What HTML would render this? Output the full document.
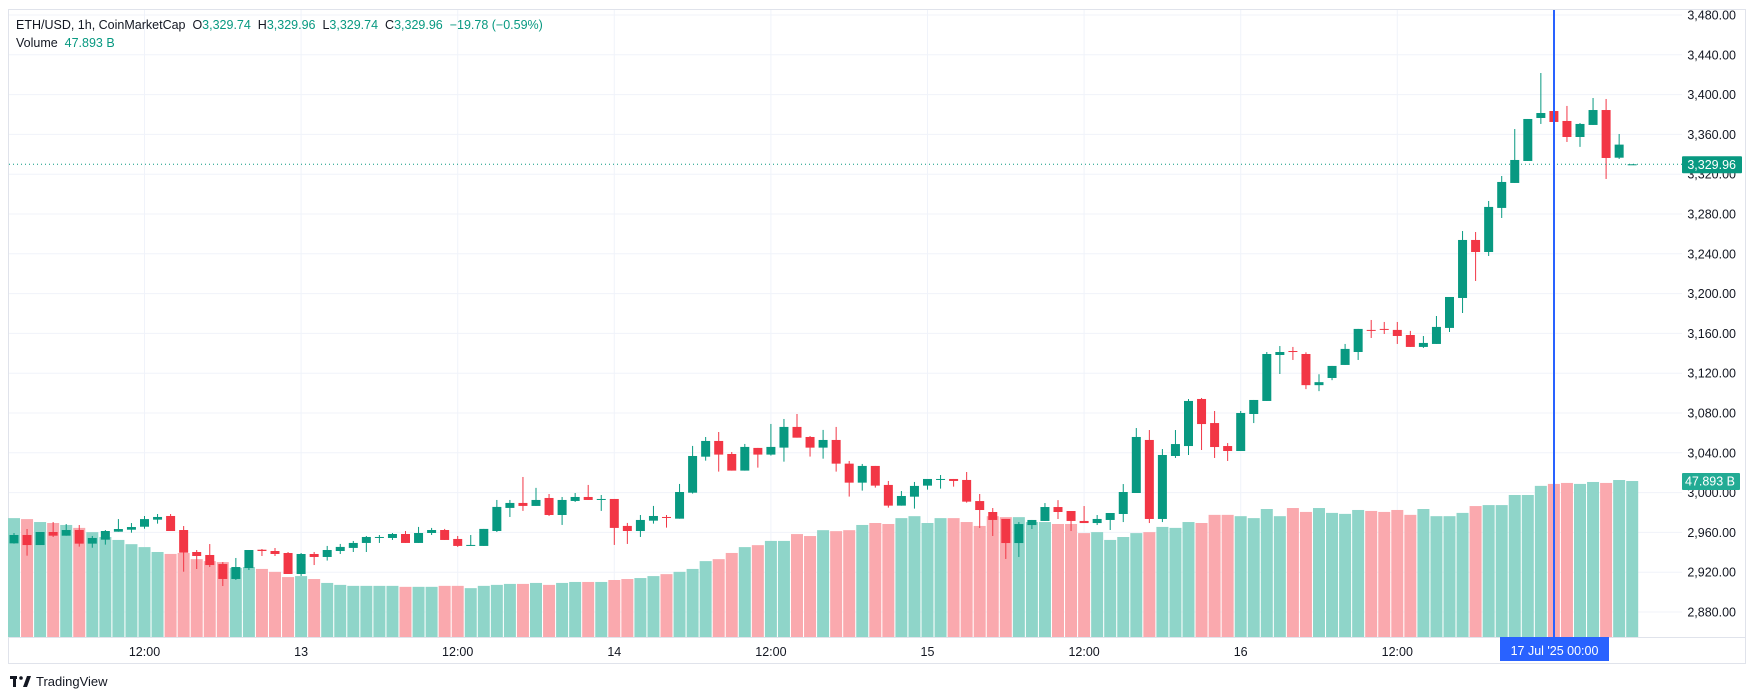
<!DOCTYPE html>
<html><head><meta charset="utf-8">
<style>
html,body{margin:0;padding:0;background:#fff;width:1756px;height:700px;overflow:hidden;font-family:"Liberation Sans",sans-serif;}
svg{position:absolute;left:0;top:0}
</style></head>
<body>
<svg id="chart" width="1756" height="700" xmlns="http://www.w3.org/2000/svg"></svg>
<script>
const opens=[2949,2957.4,2947.3,2960.4,2956.7,2962.4,2948.7,2952.7,2960.7,2962.7,2965.7,2972.8,2976.5,2962.4,2940.3,2937.3,2928.2,2913.2,2924.2,2942.6,2941.3,2939.3,2918.2,2938.3,2935.3,
2941.3,2944.4,2949.4,2954.8,2954.4,2958.4,2949.4,2959.4,2962.4,2953.4,2946.4,2946.4,2961.4,2984.6,2989.6,2986.6,2994.6,2977.5,2991.6,2995.6,2993,2993.6,2966.5,2961.4,2971.8,
2975.5,2973.8,2999.9,3036.1,3051.9,3038.8,3022.1,3044.9,3038.2,3045.2,3066,3055.9,3045.2,3052.9,3029.1,3010,3026.8,3007.7,2986.9,2995.9,3007,3013,3013.7,3012.7,2991.5,
2980.5,2973.5,2949.3,2967.4,2971.5,2985.5,2981.5,2971.5,2969.4,2972.5,2978.5,2999.6,3052.9,2973.5,3036.8,3046.8,3094.1,3069.9,3046.8,3041.8,3079,3092.1,3138.3,3142.3,3139.3,
3108,3115.2,3128.3,3141.3,3163.5,3164.5,3163.5,3158.4,3146.4,3149.4,3165.5,3195.6,3253.9,3241.8,3286.1,3311.2,3333.3,3376.5,3383.5,3373.5,3357.4,3369.5,3384.5,3336.6,3329.74];
const highs=[2959.4,2963.4,2960.4,2970.4,2968.4,2967.4,2956.4,2962.4,2973.4,2969.4,2976.5,2978.5,2978.5,2966.4,2942.3,2948.3,2930.2,2934.3,2942.3,2943.3,2944.3,2940.3,2939.3,2940.3,2946.4,
2948.4,2951.4,2956.4,2957.4,2959.4,2961.4,2965.5,2964.5,2963.5,2956.4,2957.4,2963.5,2992.6,2992.6,3015.7,3004.7,2998.6,2995.6,2999.6,3007.7,2997.6,2993.6,2969.5,2977.5,2986.6,
2977.5,3008.7,3046.9,3055.9,3060.9,3040.8,3048.9,3044.9,3069,3074,3079,3056.9,3063,3066,3031.8,3028.8,3026.8,3011.7,3001.6,3010.7,3013.7,3017.7,3013.7,3020.7,2998.6,
2984.5,2973.5,2970.4,2972.5,2989.5,2992.5,2981.5,2986.5,2977.5,2979.5,3008.6,3064.9,3062.9,3043.8,3062.9,3094.1,3095.1,3082,3049.8,3082,3093.1,3141.3,3147.3,3146.4,3141,
3119,3127.3,3149.4,3164.5,3173.5,3171.5,3171.5,3162.5,3157.4,3177.5,3196.6,3262.9,3261.9,3293.1,3318.2,3365.4,3375.5,3421.7,3397.6,3388.6,3371.5,3396.6,3395.6,3360.4,3329.96];
const lows=[2948.7,2936.6,2947.3,2955.4,2956.7,2945.7,2944.6,2947.7,2960.7,2959.7,2963.7,2968.8,2961.4,2920.5,2923.2,2925.2,2906.1,2912.2,2922.2,2936.3,2936.3,2918.2,2916.2,2927.2,2931.7,
2938.3,2940.3,2940.3,2949.4,2952.4,2949.4,2949.4,2957.4,2952.4,2945.4,2946.4,2946.4,2960.4,2975.5,2981.6,2986.6,2976.5,2967.5,2990.6,2992.6,2981.6,2947.4,2948.4,2955.4,2968.8,
2964.8,2973.8,2999,3032.1,3021.1,3022.1,3022.1,3025.1,3037.2,3031.1,3055.2,3036.2,3034.1,3021.1,2996,3002,3005,2984.9,2986.9,2983.9,3003,3004,3006,2989.9,2964.4,
2956.4,2933.3,2935.3,2963.4,2971.5,2973.5,2961.4,2969.4,2967.4,2962.4,2970.4,2999.6,2969.4,2970.4,3034.8,3037.8,3042.8,3034.8,3031.8,3041.8,3069.9,3092.1,3119.2,3133.3,3104,
3102,3113,3128.3,3133.3,3155.4,3159.4,3149.4,3146.4,3145.4,3149.4,3161.4,3180.5,3212.7,3237.8,3276,3311.2,3333.3,3370.5,3356.4,3352.4,3347.4,3369.5,3315.2,3335.3,3329.74];
const closes=[2957.4,2947.3,2960.4,2956.7,2962.4,2948.7,2954.4,2961.4,2963.4,2965.4,2973.4,2975.5,2961.4,2939.6,2936.3,2927.2,2913.2,2925.2,2942.3,2941.3,2938.3,2918.2,2938.3,2935.3,2942.3,
2945.4,2949.4,2955.4,2955.4,2958.4,2949.4,2959.4,2962.4,2952.4,2946.4,2947.4,2963.5,2985.6,2989.6,2986.6,2992.6,2977.5,2992.6,2995.6,2992.6,2993.6,2964.5,2961.4,2972.5,2976.5,
2974.8,3000.6,3036.8,3051.9,3038.2,3022.1,3045.9,3038.2,3045.9,3066,3055.2,3045.2,3052.9,3029.1,3010,3026.8,3007,2986.9,2996.6,3006.7,3013.7,3013.7,3011.7,2990.9,2982.5,
2972.5,2949.3,2968.4,2972.5,2985.5,2980.5,2971.5,2969.4,2973.5,2979.5,3000.6,3055.9,2973.5,3037.8,3048.8,3092.1,3068.9,3045.8,3041.8,3080,3093.1,3139.3,3141.3,3141.3,3108,
3111,3127.3,3144.4,3164.5,3162.5,3164,3157.4,3146.4,3150.4,3166.5,3196.6,3253.9,3241.8,3287.1,3312.2,3334.3,3375.5,3381.5,3372.5,3357.4,3370.5,3384.5,3336.3,3349.74,3329.96];
const volumes=[36.5,36.2,35.3,35.0,34.4,33.5,32.2,30.7,29.8,28.5,27.6,26.1,25.5,25.8,23.9,23.3,23.0,21.2,21.5,20.9,20.0,18.4,18.7,17.8,16.6,
16.0,15.7,15.7,15.7,15.7,15.4,15.4,15.4,15.7,15.7,15.0,15.7,16.0,16.3,16.3,16.6,16.0,16.6,16.9,16.9,16.9,17.5,17.8,18.1,18.7,19.3,20.0,
20.9,23.3,23.9,25.8,27.6,28.2,29.5,29.5,31.6,31.0,32.8,32.5,32.8,34.4,35.0,34.7,36.5,37.1,35.0,36.5,36.5,35.3,34.1,37.1,36.8,36.8,35.3,35.3,
34.7,34.7,31.9,32.2,29.8,30.7,31.9,32.2,33.8,33.5,35.3,35.0,37.5,37.5,37.1,36.5,39.3,37.1,39.6,38.4,39.6,38.1,37.8,39.0,38.7,38.4,39.0,
37.5,39.3,37.1,37.1,38.1,40.2,40.5,40.5,43.6,43.6,46.4,47.0,47.3,47.0,47.6,47.3,48.2,47.893];
const priceTicks=[3480,3440,3400,3360,3320,3280,3240,3200,3160,3120,3080,3040,3000,2960,2920,2880];
const timeLabels=["12:00","13","12:00","14","12:00","15","12:00","16","12:00"];
const timeIdx=[10,22,34,46,58,70,82,94,106];

const NS="http://www.w3.org/2000/svg";
const svg=document.getElementById('chart');
const PL=9,PR=1682,PT=10,PB=637;
const xOf=i=>14+i*13.05;
const yOf=p=>15+(3480-p)*0.995;
const volH=v=>v*3.257;
function mk(tag,attrs,parent){const e=document.createElementNS(NS,tag);for(const k in attrs)e.setAttribute(k,attrs[k]);(parent||svg).appendChild(e);return e;}
function fmt(p){return p.toLocaleString('en-US',{minimumFractionDigits:2,maximumFractionDigits:2});}

let fr=mk('rect',{x:8.5,y:9.5,width:1737,height:654,fill:'#fff',stroke:'#e0e3eb','stroke-width':1});


let ax=mk('line',{x1:PL,y1:PB+0.5,x2:1745,y2:PB+0.5,stroke:'#e0e3eb'});



const grid=mk('g',{});


priceTicks.forEach(p=>{mk('line',{x1:PL,x2:PR,y1:yOf(p),y2:yOf(p),stroke:'#f0f3fa','stroke-width':1},grid);});
timeIdx.forEach(i=>{mk('line',{x1:xOf(i),x2:xOf(i),y1:PT,y2:PB,stroke:'#f0f3fa','stroke-width':1},grid);});

const vg=mk('g',{});


volumes.forEach((v,i)=>{
  const up=closes[i]>=opens[i];
  const h=volH(v);
  const r=mk('rect',{x:xOf(i)-6,y:PB-h,width:12,height:h,fill:up?'#8fd5c9':'#faa9ae'},vg);
  
  
});

const cg=mk('g',{});


opens.forEach((o,i)=>{
  const c=closes[i],up=c>=o,col=up?'#089981':'#f23645';
  const g=mk('g',{},cg);
  
  
  const x=xOf(i);
  mk('line',{x1:x,x2:x,y1:yOf(highs[i]),y2:yOf(lows[i]),stroke:col,'stroke-width':1},g);
  const yt=yOf(Math.max(o,c)),yb=yOf(Math.min(o,c));
  mk('rect',{x:x-4.5,y:yt,width:9,height:Math.max(1,yb-yt),fill:col},g);
});

const last=closes[closes.length-1];
let dl=mk('line',{x1:PL,x2:PR,y1:yOf(last),y2:yOf(last),stroke:'#089981','stroke-width':1,'stroke-dasharray':'1 3'});



let ch=mk('line',{x1:1554,x2:1554,y1:PT,y2:PB,stroke:'#2962ff','stroke-width':2});



const pa=mk('g',{});


priceTicks.forEach(p=>{const t=mk('text',{x:1736,y:yOf(p)+4.5,'text-anchor':'end','font-size':12.5,fill:'#131722'},pa);t.textContent=fmt(p);});
const ta=mk('g',{});


timeLabels.forEach((l,i)=>{const t=mk('text',{x:xOf(timeIdx[i]),y:656,'text-anchor':'middle','font-size':12.5,fill:'#131722'},ta);t.textContent=l;});

const lp=mk('g',{});


mk('rect',{x:1682,y:yOf(last)-8,width:60,height:17,fill:'#089981',rx:1},lp);
let lt=mk('text',{x:1736,y:yOf(last)+4.5,'text-anchor':'end','font-size':12.5,fill:'#fff'},lp);lt.textContent=fmt(last);
const vl=mk('g',{});


const vy=PB-volH(volumes[volumes.length-1]);
mk('rect',{x:1682,y:vy-8,width:58,height:17,fill:'#22ab94',rx:1},vl);
let vt=mk('text',{x:1735,y:vy+4.5,'text-anchor':'end','font-size':12.5,fill:'#fff'},vl);vt.textContent='47.893 B';
const tl=mk('g',{});


mk('rect',{x:1500,y:637,width:109,height:24,fill:'#2962ff'},tl);
let tt=mk('text',{x:1554.5,y:655,'text-anchor':'middle','font-size':12.5,fill:'#fff','xml:space':'preserve'},tl);tt.textContent="17 Jul '25   00:00";
</script>
<div style="position:absolute;left:16px;top:16px;font-size:12.5px;color:#131722;line-height:18px;"><div style="white-space:pre">ETH/USD, 1h, CoinMarketCap  O<span style="color:#089981">3,329.74</span>  H<span style="color:#089981">3,329.96</span>  L<span style="color:#089981">3,329.74</span>  C<span style="color:#089981">3,329.96</span>  <span style="color:#089981">−19.78 (−0.59%)</span></div><div style="white-space:pre">Volume  <span style="color:#089981">47.893 B</span></div></div>
<div style="position:absolute;left:10px;top:674px;font-size:13px;color:#131722;display:flex;align-items:center;gap:4px">
<svg width="22" height="12" style="position:static" viewBox="0 0 22 12"><rect x="0" y="0" width="7" height="3" fill="#131722"/><rect x="3" y="0" width="3" height="11" fill="#131722"/><circle cx="11" cy="2" r="1.8" fill="#131722"/><polygon points="13,11 17,0 21,0 17,11" fill="#131722"/></svg>
<span>TradingView</span></div>
</body></html>
